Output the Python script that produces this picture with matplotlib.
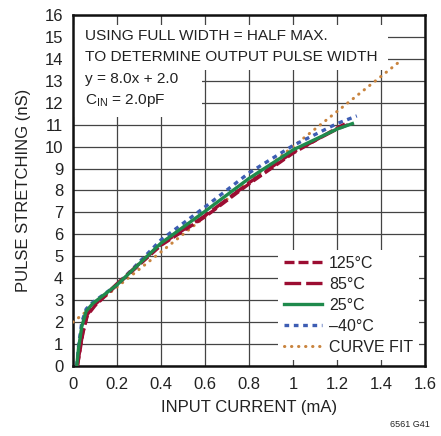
import numpy as np
import matplotlib
matplotlib.use('Agg')
import matplotlib.pyplot as plt
from matplotlib.patches import Rectangle

# data
x_125 = [0.02, 0.03, 0.045, 0.065, 0.1, 0.2, 0.4, 0.6, 0.8, 1.0, 1.2, 1.24]
y_125 = [0.0, 0.6, 1.5, 2.3, 2.75, 3.7, 5.5, 6.8, 8.3, 9.7, 10.85, 11.05]
x_85 = [0.02, 0.03, 0.045, 0.065, 0.1, 0.2, 0.4, 0.6, 0.8, 1.0, 1.2, 1.25]
y_85 = [0.0, 0.65, 1.55, 2.35, 2.8, 3.75, 5.55, 6.85, 8.35, 9.75, 10.8, 11.0]
x_25 = [0.017, 0.025, 0.04, 0.06, 0.09, 0.2, 0.4, 0.6, 0.8, 1.0, 1.2, 1.27]
y_25 = [0.0, 0.8, 1.8, 2.5, 2.85, 3.7, 5.6, 7.05, 8.55, 9.85, 10.8, 11.05]
x_m40 = [0.017, 0.025, 0.04, 0.06, 0.09, 0.2, 0.4, 0.6, 0.8, 1.0, 1.2, 1.29]
y_m40 = [0.0, 0.9, 2.0, 2.6, 2.9, 3.7, 5.75, 7.25, 8.8, 10.05, 11.05, 11.4]
fit_x = [0.0, 1.48]
fit_y = [8.0 * v + 2.0 for v in fit_x]

labels = ['125°C', '85°C', '25°C', '–40°C', 'CURVE FIT']

plt.rcParams['font.family'] = ['Liberation Sans', 'DejaVu Sans']
fs = 11.1
tc = '#222222'

fig = plt.figure(figsize=(4.41, 4.36), dpi=100)
ax = fig.add_axes([73/441, 70/436, 352/441, 351/436])

red = '#9c0d32'
green = '#1f8a4c'
blue = '#3d5db3'
orange = '#c9843e'

l1, = ax.plot(x_125, y_125, color=red, lw=2.4, dashes=(3, 1.2), zorder=5)
l2, = ax.plot(x_85, y_85, color=red, lw=2.4, dashes=(5, 1.5), zorder=5)
l3, = ax.plot(x_25, y_25, color=green, lw=2.4, zorder=6)
l4, = ax.plot(x_m40, y_m40, color=blue, lw=2.4, dashes=(1.4, 1.4), zorder=4)
l5, = ax.plot(fit_x, fit_y, color=orange, lw=2.2, linestyle=(0, (0.1, 2.2)),
              dash_capstyle='round', zorder=3)

ax.set_xlim(0, 1.6)
ax.set_ylim(0, 16)
ax.set_xticks(np.arange(0, 1.61, 0.2))
ax.set_xticklabels(['0', '0.2', '0.4', '0.6', '0.8', '1', '1.2', '1.4', '1.6'])
ax.set_yticks(range(0, 17))
ax.tick_params(length=0, labelsize=12, colors=tc)
ax.tick_params(axis='x', pad=8)
ax.tick_params(axis='y', pad=7)
ax.grid(True, color='#444444', lw=0.9)
ax.set_axisbelow(True)
for s in ax.spines.values():
    s.set_linewidth(1.8)
    s.set_color('#111111')

ax.set_xlabel('INPUT CURRENT (mA)', fontsize=12, color=tc, labelpad=6)
ax.set_ylabel('PULSE STRETCHING (nS)', fontsize=12, color=tc, labelpad=10)

# white boxes behind the note text
ax.add_patch(Rectangle((0.003, 13.5), 1.43, 2.05, facecolor='white', edgecolor='none', zorder=2))
ax.add_patch(Rectangle((0.003, 11.36), 0.585, 2.2, facecolor='white', edgecolor='none', zorder=2))
tx = 0.055
ax.text(tx, 15.04, 'USING FULL WIDTH = HALF MAX.', fontsize=fs, va='center', color=tc, zorder=7)
ax.text(tx, 14.08, 'TO DETERMINE OUTPUT PULSE WIDTH', fontsize=fs, va='center', color=tc, zorder=7)
ax.text(tx, 13.08, 'y = 8.0x + 2.0', fontsize=fs, va='center', color=tc, zorder=7)
ax.text(tx, 12.08, r'C$_{\mathregular{IN}}$ = 2.0pF', fontsize=fs, va='center', color=tc, zorder=7)

leg = ax.legend([l1, l2, l3, l4, l5], labels, loc='lower right',
                bbox_to_anchor=(1.005, -0.007), fontsize=11.5, frameon=True,
                framealpha=1, edgecolor='none', facecolor='white',
                handlelength=2.4, handletextpad=0.45, labelspacing=0.38,
                borderpad=0.35, fancybox=False)
leg.set_zorder(8)
for t in leg.get_texts():
    t.set_color(tc)

fig.text(410/441, 1 - 424/436, '6561 G41', fontsize=6.5, ha='center', va='center', color=tc)

fig.savefig('out.png', dpi=100)
